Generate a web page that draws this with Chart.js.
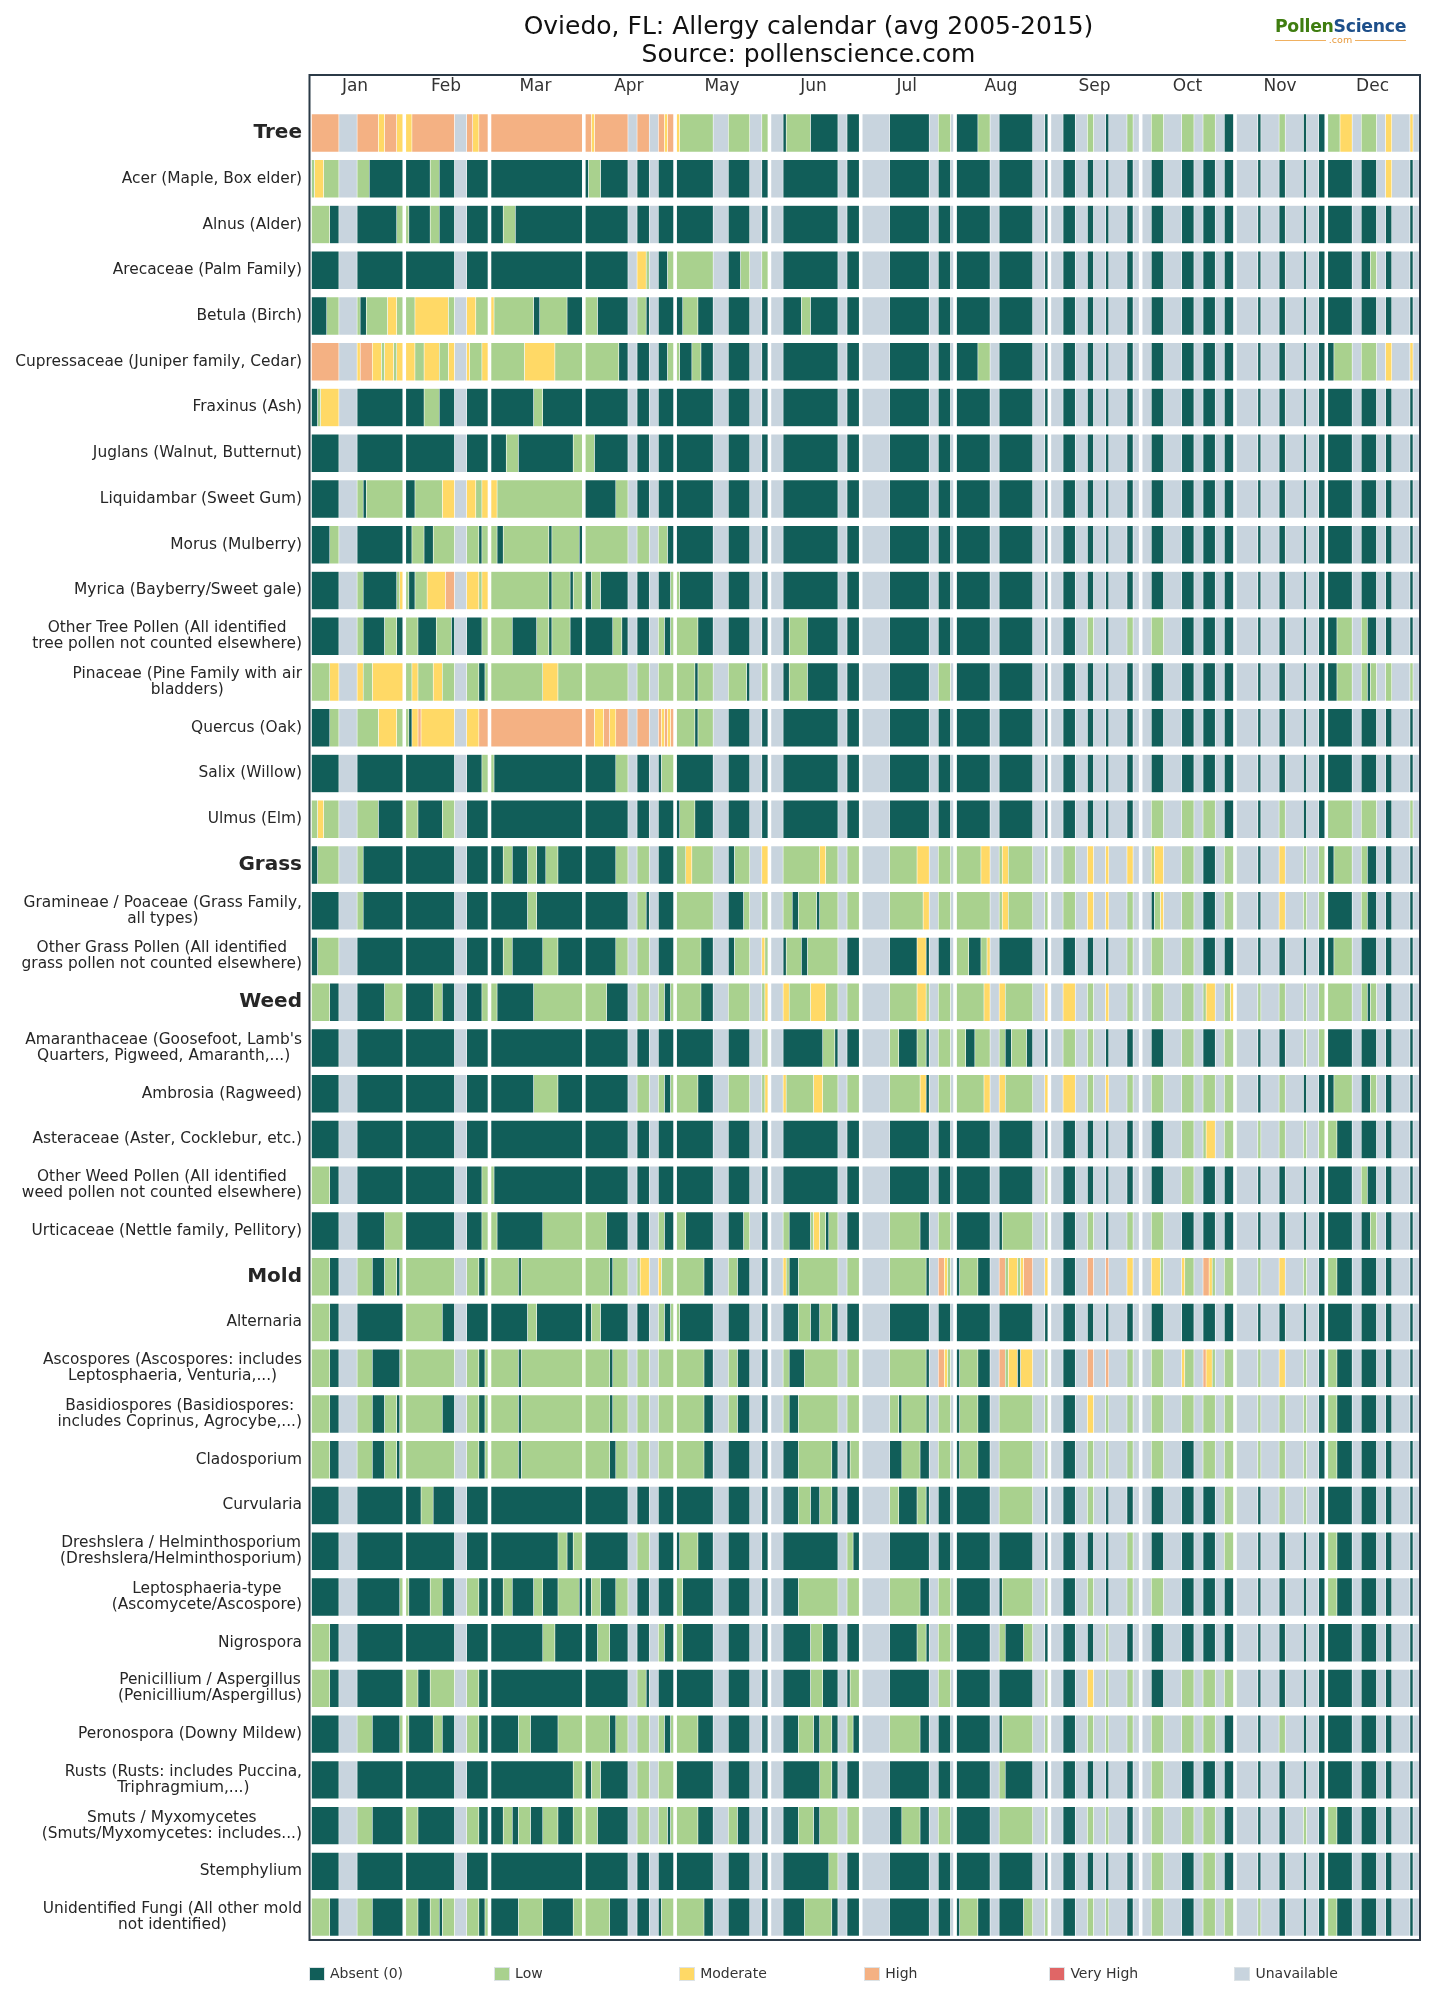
<!DOCTYPE html>
<html>
<head>
<meta charset="utf-8">
<title>Oviedo, FL: Allergy calendar</title>
<script src="https://cdn.jsdelivr.net/npm/chart.js@4"></script>
<style>
  html, body { margin: 0; padding: 0; background: #fff; }
  body { position: relative; width: 1449px; height: 2012px; overflow: hidden; font-family: "DejaVu Sans", sans-serif; }
  #chart { position: absolute; left: 0; top: 0; }
  #title { position: absolute; left: 0; top: 12px; width: 1617px; text-align: center; font-size: 25px; line-height: 28px; color: #111; }
  #logo { position: absolute; left: 1275px; top: 16px; width: 131px; text-align: center; font-weight: bold; font-size: 17.3px; line-height: 20px; letter-spacing: -0.3px; white-space: nowrap; }
  #logo .p { color: #3f7d10; }
  #logo .s { color: #1d4f8a; }
  #logo .c { display: flex; align-items: center; gap: 3px; font-size: 9.5px; line-height: 8px; font-weight: normal; color: #e89a3c; letter-spacing: 0; }
  #logo .c i { flex: 1; height: 1px; background: #f0b060; }
  #legend { position: absolute; left: 309px; top: 1966px; display: grid; grid-template-columns: repeat(6, 185.1px); font-size: 14px; line-height: 15px; color: #333; }
  #legend div { display: flex; align-items: center; }
  #legend span { display: inline-block; width: 16px; height: 14px; margin-right: 5px; border: 0.5px solid #dde3e6; box-sizing: border-box; }
</style>
</head>
<body>
<canvas id="chart" width="1449" height="2012"></canvas>
<div id="title">Oviedo, FL: Allergy calendar (avg 2005-2015)<br>Source: pollenscience.com</div>
<div id="logo"><span class="p">Pollen</span><span class="s">Science</span><div class="c"><i></i>.com<i></i></div></div>
<div id="legend"></div>
<script>
const months = ["Jan","Feb","Mar","Apr","May","Jun","Jul","Aug","Sep","Oct","Nov","Dec"];
const monthLabelDays = [14.3,44.2,73.6,104.3,134.9,165,195.6,226.6,257.3,287.9,318.3,348.7];
// last day of each month is left blank
const monthEndDays = [30,58,89,119,150,180,211,242,272,303,333,364];

const groupRows = ["Tree","Grass","Weed","Mold"];
const rowLabels = [
  "Tree",
  "Acer (Maple, Box elder)",
  "Alnus (Alder)",
  "Arecaceae (Palm Family)",
  "Betula (Birch)",
  "Cupressaceae (Juniper family, Cedar)",
  "Fraxinus (Ash)",
  "Juglans (Walnut, Butternut)",
  "Liquidambar (Sweet Gum)",
  "Morus (Mulberry)",
  "Myrica (Bayberry/Sweet gale)",
  ["Other Tree Pollen (All identified","tree pollen not counted elsewhere)"],
  ["Pinaceae (Pine Family with air","bladders)"],
  "Quercus (Oak)",
  "Salix (Willow)",
  "Ulmus (Elm)",
  "Grass",
  ["Gramineae / Poaceae (Grass Family,","all types)"],
  ["Other Grass Pollen (All identified","grass pollen not counted elsewhere)"],
  "Weed",
  ["Amaranthaceae (Goosefoot, Lamb's","Quarters, Pigweed, Amaranth,...)"],
  "Ambrosia (Ragweed)",
  "Asteraceae (Aster, Cocklebur, etc.)",
  ["Other Weed Pollen (All identified","weed pollen not counted elsewhere)"],
  "Urticaceae (Nettle family, Pellitory)",
  "Mold",
  "Alternaria",
  ["Ascospores (Ascospores: includes","Leptosphaeria, Venturia,...)"],
  ["Basidiospores (Basidiospores:","includes Coprinus, Agrocybe,...)"],
  "Cladosporium",
  "Curvularia",
  ["Dreshslera / Helminthosporium","(Dreshslera/Helminthosporium)"],
  ["Leptosphaeria-type","(Ascomycete/Ascospore)"],
  "Nigrospora",
  ["Penicillium / Aspergillus","(Penicillium/Aspergillus)"],
  "Peronospora (Downy Mildew)",
  ["Rusts (Rusts: includes Puccina,","Triphragmium,...)"],
  ["Smuts / Myxomycetes","(Smuts/Myxomycetes: includes...)"],
  "Stemphylium",
  ["Unidentified Fungi (All other mold","not identified)"]
];

// days without any sample, same for every row: [from, to)
const noDataDays = [[9,15],[47,51],[104,107],[111,114],[132,137],[144,148],[151,155],[173,176],
  [181,190],[203,206],[210,211],[223,226],[237,241],[243,247],[251,255],[257,261],[262,268],[270,272],
  [273,276],[280,286],[290,293],[297,300],[304,311],[312,318],[320,326],[327,331],[342,345],[350,353],
  [355,361],[362,364]];

// L/M/H runs per row as level + from-to, anything not listed is Absent
const rowRuns = [
  "H0-9 H15-22 M22-24 H24-28 M28-30 M31-33 H33-47 H51-53 M53-55 H55-58 H59-89 H90-92 M92-93 H93-104 H107-111 H114-116 M116-117 H117-119 M120-121 L121-144 L148-150 L156-164 L206-210 L219-223 L255-257 L268-270 L276-280 L286-290 L293-297 L318-320 L334-338 M338-342 L345-350 M353-355 M361-362",
  "L0-1 M1-4 L4-9 L15-19 L39-42 L91-95 M353-355",
  "L0-6 L28-30 L31-32 L39-42 L63-67",
  "M107-110 L110-111 L117-119 L120-132 L141-144 L148-150 L348-350",
  "L5-9 L15-16 L18-25 M25-28 L28-30 L31-34 M34-45 L45-47 M51-54 L54-58 M59-60 L60-73 L75-84 L90-94 L107-110 L122-127 L161-164",
  "H0-9 M15-16 H16-20 M20-23 L23-24 M24-27 L27-28 M28-30 M31-34 L34-37 M37-42 L42-45 M45-47 M51-52 L52-56 M56-58 L59-70 M70-80 L80-89 L90-101 L117-119 L120-121 L125-128 L219-223 L336-342 L345-350 M353-355 M361-362",
  "L2-3 M3-9 L37-42 L73-76",
  "L64-68 L86-89 L90-93",
  "L15-17 L18-30 L34-43 M43-47 M51-54 L54-56 M56-58 M59-61 L61-89 L100-104",
  "L6-9 L33-37 L40-47 L51-55 L56-58 L59-61 L63-78 L79-88 L90-111 L114-117",
  "L15-17 L28-29 M29-30 L31-32 L34-38 M38-44 H44-47 M51-55 L55-56 M56-58 L59-78 L79-85 L86-89 L92-95 L118-119 L120-121",
  "L15-17 L24-28 L31-35 L41-46 L56-58 L59-66 L74-78 L79-85 L99-102 L114-116 L118-119 L120-127 L157-163 L255-257 L268-270 L276-280 L337-342 L345-347",
  "L0-6 M6-9 M15-17 L17-20 M20-30 L31-33 M33-35 L35-40 M40-43 L43-55 L57-58 L59-76 M76-81 L81-119 L120-126 L127-143 L148-150 L157-163 L206-210 L337-342 L345-347 L348-355 L361-362",
  "L6-9 L15-22 M22-28 L28-30 L31-32 M33-35 H35-36 M36-47 M51-55 H55-58 H59-89 H90-93 M93-96 H96-98 M98-100 H100-111 H114-115 M115-116 H116-117 M117-118 H118-119 L120-126 L127-132",
  "L56-58 L59-60 L100-104 L115-119",
  "L0-2 M2-4 L4-9 L15-22 L31-35 L43-47 L121-126 L276-280 L286-290 L293-297 L318-320 L334-342 L345-350 L361-362",
  "L2-9 L15-17 L63-66 L71-74 L77-81 L100-111 L120-123 M123-125 L125-132 L139-144 M148-150 L155-167 M167-169 L169-180 L190-199 M199-203 L206-210 L212-220 M220-223 L226-227 M227-229 L229-242 L247-251 M255-257 M261-262 M268-270 L276-277 M277-280 L286-290 L300-303 M318-320 L326-327 L331-333 L336-342 L345-347",
  "L15-17 L71-74 L107-110 L120-132 L142-144 L148-150 L155-158 L160-166 L167-180 L190-201 M201-203 L206-210 L212-223 L226-227 M227-229 L229-242 L247-251 M255-257 M261-262 L268-270 L277-279 M279-280 L286-290 L300-303 M318-320 L326-327 L331-333 L345-347",
  "L2-9 L63-66 L76-81 L100-111 L120-128 L139-144 M148-149 L149-150 L156-161 L163-173 M199-202 L212-216 L220-222 M222-223 L268-270 L276-280 L286-290 L336-342",
  "L0-6 L24-30 L40-43 L56-58 L59-61 L73-89 L90-97 L107-111 L114-116 L118-119 L120-128 L137-144 L148-149 M149-150 M155-157 L157-164 M164-169 L169-180 L190-199 M199-202 L202-203 L206-210 L212-221 M221-223 M226-228 L228-237 M241-242 M247-251 L255-257 M261-262 L268-270 L276-280 L286-290 L293-294 M294-297 L300-302 M302-303 L311-312 L318-320 L326-327 L331-333 L334-342 L345-347 L348-350",
  "L148-150 L168-172 L190-193 L199-202 L206-210 L212-215 L218-223 L226-228 L230-235 L247-251 L255-257 L286-290 L300-303 L326-327 L331-333",
  "L73-81 L107-111 L114-116 L118-119 L120-127 L137-144 L148-149 M149-150 M155-156 L156-165 M165-168 L168-180 L190-200 M200-202 L206-210 L212-221 M221-223 M226-228 L228-237 M241-242 M247-251 L255-257 M261-262 L268-270 L276-280 L286-290 L293-297 L300-303 L318-320 L336-342 L348-350",
  "L286-290 L293-294 M294-297 L300-303 L311-312 L318-320 L326-327 L331-333 L334-337",
  "L0-6 L56-58 L59-60 L241-242 L286-290 L345-347",
  "L24-30 L56-58 L59-61 L76-89 L90-97 L114-116 L120-123 L142-144 L155-157 L164-165 M165-167 L167-169 L170-173 L190-200 L206-210 L227-237 L241-242 L255-257 L268-270 L276-280 L348-350",
  "L0-6 L15-20 L24-28 L29-30 L31-47 L51-55 L57-58 L59-68 L69-89 L90-98 L99-104 L107-108 M108-111 M114-115 L115-119 L120-129 L137-140 M155-156 L156-157 L160-173 L176-180 L190-202 H206-208 M208-209 L209-210 L213-219 H226-228 L228-229 M229-232 L232-233 M233-234 H234-237 M241-242 H255-257 H261-262 M268-270 M276-279 L279-280 M286-287 L287-290 H293-295 M295-296 L296-297 L300-303 L311-312 M318-320 L326-327 L334-337",
  "L0-6 L31-43 L71-74 L92-95 L114-116 L118-119 L120-121 L160-164 L167-171",
  "L0-6 L15-20 L29-30 L31-47 L51-55 L57-58 L59-68 L69-89 L90-98 L99-104 L107-111 L114-119 L120-129 L137-140 L155-157 L162-173 L176-180 L190-202 H206-208 M208-209 L209-210 L213-219 H226-228 L228-229 M229-232 M233-237 L241-242 H255-257 H261-262 L268-270 L276-280 M286-287 L287-290 H293-294 M294-296 L296-297 L300-303 L311-312 M318-320 L326-327 L334-337",
  "L0-6 L15-20 L24-28 L29-30 L31-43 L51-55 L57-58 L59-68 L69-89 L90-98 L99-104 L107-111 L114-119 L120-129 L137-140 L155-157 L160-173 L176-180 L190-193 L194-202 L206-210 L213-219 L226-237 L241-242 M255-257 L261-262 L268-270 L276-280 L286-290 L293-297 L300-303 L311-312 L318-320 L326-327 L334-337",
  "L0-6 L15-20 L24-28 L29-30 L31-47 L51-55 L57-58 L59-68 L69-89 L90-98 L100-104 L107-111 L114-119 L120-129 L160-171 L177-180 L194-200 L206-210 L213-219 L226-237 L241-242 L255-257 L261-262 L268-270 L276-280 L293-297 L300-303 L311-312 L318-320 L326-327 L334-337",
  "L36-40 L160-164 L167-171 L190-193 L199-202 L226-237 L255-257 L300-303 L318-320 L326-327",
  "L81-84 L86-89 L107-111 L121-127 L176-178 L268-270 L300-303 L334-337",
  "L29-30 L31-32 L39-43 L51-55 L63-66 L73-76 L81-88 L92-95 L100-104 L120-122 L160-173 L176-180 L190-200 L206-210 L227-237 L241-242 L255-257 L268-270 L276-280 L334-337",
  "L0-6 L76-80 L94-98 L114-116 L120-122 L164-168 L199-202 L206-210 L226-228 L234-237 L261-262",
  "L0-6 L31-35 L39-47 L51-55 L107-110 L164-168 L177-180 L206-210 L241-242 M255-257 L261-262 L268-270 L286-290 L293-297 L300-303",
  "L15-20 L29-30 L31-32 L40-43 L51-55 L68-72 L81-89 L90-98 L100-104 L107-111 L114-116 L118-119 L120-127 L160-165 L167-171 L176-178 L190-200 L227-237 L241-242 L255-257 L261-262 L268-270 L276-280 L286-290 L293-297 L318-320",
  "L86-89 L92-95 L107-111 L114-119 L167-171 L226-228 L276-280",
  "L15-20 L31-35 L51-55 L63-66 L68-72 L76-81 L86-89 L90-94 L107-111 L114-117 L118-119 L120-127 L137-140 L160-165 L167-173 L176-180 L194-200 L206-210 L226-237 L241-242 L255-257 L261-262 L276-280 L286-290 L293-297 L326-327 L334-337",
  "L170-173 L276-280 L293-297",
  "L0-6 L15-20 L31-35 L39-42 L43-47 L51-55 L57-58 L68-76 L86-89 L90-98 L115-119 L120-129 L162-171 L213-219 L234-237 L241-242 L255-257 L261-262 L276-280 L293-297 L300-303 L311-312 L334-337"
];

const levelNames = ["Absent (0)","Low","Moderate","High","Very High","Unavailable"];
const levelCodes = ["A","L","M","H","V","U"];
const levelColors = ["#115e59","#a9d18e","#ffd966","#f4b183","#e06666","#c8d4de"];

// expand a row to one code per day, then merge neighbouring days into runs
function rowSegments(runText) {
  const days = new Array(365).fill("A");
  runText.split(" ").forEach(tok => {
    const [from, to] = tok.slice(1).split("-").map(Number);
    for (let d = from; d < to; d++) days[d] = tok[0];
  });
  noDataDays.forEach(([from, to]) => {
    for (let d = from; d < to; d++) days[d] = "U";
  });
  monthEndDays.forEach(d => { days[d] = null; });

  const segs = [];
  let start = 0;
  for (let d = 1; d <= 365; d++) {
    if (d === 365 || days[d] !== days[start]) {
      if (days[start]) segs.push({ code: days[start], from: start, to: d });
      start = d;
    }
  }
  return segs;
}

const datasets = levelCodes.map((code, i) => ({
  label: levelNames[i],
  data: [],
  backgroundColor: levelColors[i],
  borderColor: "rgba(255,255,255,0.55)",
  borderWidth: 0.6,
  borderSkipped: false,
  barThickness: 38,
  grouped: false
}));

rowRuns.forEach((runText, row) => {
  rowSegments(runText).forEach(seg => {
    datasets[levelCodes.indexOf(seg.code)].data.push({ x: [seg.from, seg.to], y: row });
  });
});

// row names sit left of the frame; wrapped lines are centred on each other
const rowLabelPlugin = {
  id: "rowLabels",
  afterDraw(c) {
    const ctx = c.ctx;
    const yScale = c.scales.y;
    const right = c.chartArea.left - 7.5;
    ctx.save();
    ctx.textBaseline = "middle";
    rowLabels.forEach((label, row) => {
      const y = yScale.getPixelForValue(row);
      const bold = groupRows.includes(label);
      ctx.fillStyle = "#262626";
      ctx.font = bold ? 'bold 20px "DejaVu Sans"' : '15.4px "DejaVu Sans"';
      const lines = Array.isArray(label) ? label : [label];
      const widest = Math.max(...lines.map(l => ctx.measureText(l).width));
      ctx.textAlign = "center";
      lines.forEach((line, i) => {
        ctx.fillText(line, right - widest / 2, y + (i - (lines.length - 1) / 2) * 16);
      });
    });
    ctx.restore();
  }
};

const framePlugin = {
  id: "frame",
  afterDatasetsDraw(c) {
    const { left, top, width, height } = c.chartArea;
    c.ctx.save();
    c.ctx.strokeStyle = "#2b3a47";
    c.ctx.lineWidth = 2;
    c.ctx.strokeRect(left, top, width, height);
    c.ctx.restore();
  }
};

new Chart(document.getElementById("chart").getContext("2d"), {
  type: "bar",
  data: { datasets },
  options: {
    indexAxis: "y",
    responsive: false,
    animation: false,
    layout: { padding: { left: 309.5, right: 29, top: 75, bottom: 72 } },
    plugins: { legend: { display: false }, title: { display: false }, tooltip: { enabled: false } },
    scales: {
      x: {
        type: "linear",
        position: "top",
        min: -0.65,
        max: 364.3,
        offset: false,
        grid: { display: false },
        border: { display: false },
        afterBuildTicks(scale) { scale.ticks = monthLabelDays.map(value => ({ value })); },
        afterFit(scale) { scale.height = 0; },
        ticks: {
          autoSkip: false,
          maxRotation: 0,
          mirror: true,
          padding: 1,
          color: "#333",
          font: { family: "DejaVu Sans", size: 17 },
          callback: (value, i) => months[i]
        }
      },
      y: {
        type: "linear",
        reverse: true,
        min: -1.268,
        max: 39.5,
        offset: false,
        grid: { display: false },
        border: { display: false },
        ticks: { display: false },
        afterFit(scale) { scale.width = 0; }
      }
    }
  },
  plugins: [rowLabelPlugin, framePlugin]
});

// legend row under the frame
const legendBox = document.getElementById("legend");
levelNames.forEach((name, i) => {
  const item = document.createElement("div");
  const swatch = document.createElement("span");
  swatch.style.background = levelColors[i];
  item.appendChild(swatch);
  item.appendChild(document.createTextNode(name));
  legendBox.appendChild(item);
});
</script>
</body>
</html>
